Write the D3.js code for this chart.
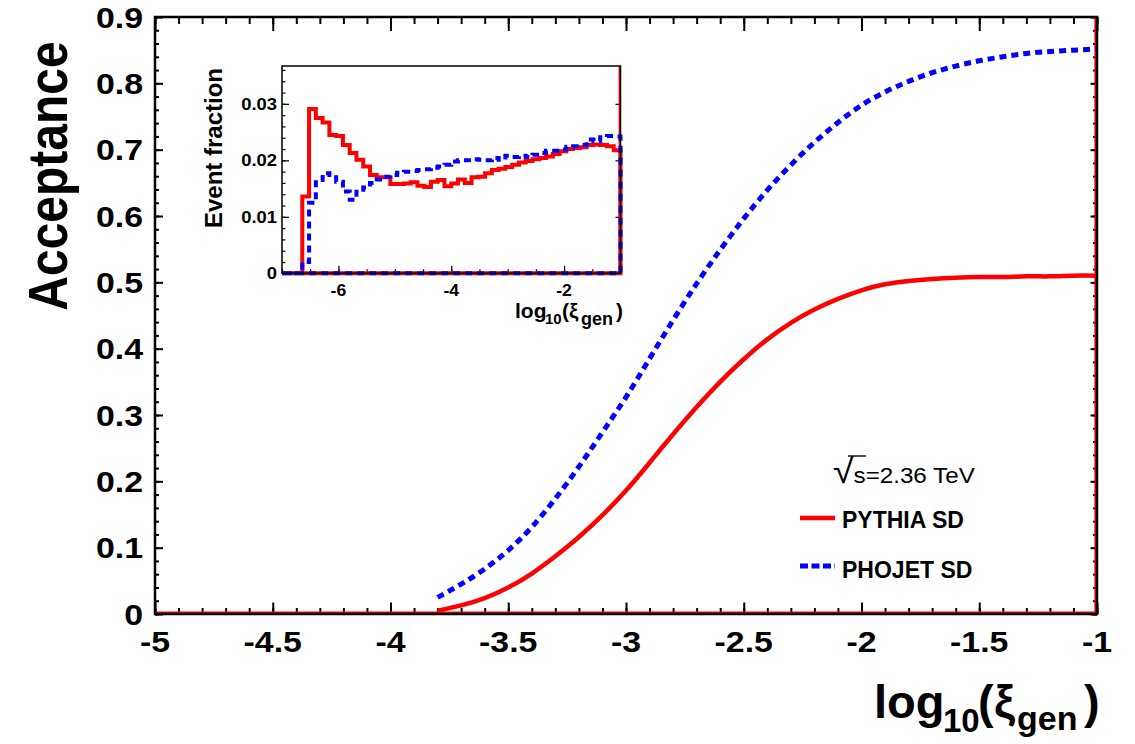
<!DOCTYPE html>
<html>
<head>
<meta charset="utf-8">
<script src="https://cdn.jsdelivr.net/npm/d3@7"></script>
<style>
  html, body { margin: 0; padding: 0; background: #fff; }
  text { font-family: "Liberation Sans", Arial, Helvetica, sans-serif; }
</style>
</head>
<body>
<svg id="chart" width="1135" height="744"></svg>
<script>
// ---- Acceptance vs log10(xi_gen) ----
const logXi = [-3.8, -3.7, -3.6, -3.5, -3.4, -3.3, -3.2, -3.1, -3.0, -2.9, -2.8, -2.7, -2.6, -2.5, -2.4,
               -2.3, -2.2, -2.1, -2.0, -1.9, -1.8, -1.7, -1.6, -1.5, -1.4, -1.3, -1.2, -1.1, -1.0];
const pythiaAcceptance = [0.005, 0.013, 0.024, 0.040, 0.061, 0.087, 0.116, 0.149, 0.186, 0.228, 0.271, 0.312,
                          0.350, 0.384, 0.414, 0.439, 0.459, 0.475, 0.488, 0.497, 0.502, 0.505, 0.507, 0.508,
                          0.508, 0.509, 0.509, 0.510, 0.510];
const phojetAcceptance = [0.025, 0.045, 0.068, 0.096, 0.131, 0.174, 0.222, 0.274, 0.327, 0.385, 0.443, 0.498,
                          0.549, 0.596, 0.639, 0.677, 0.711, 0.741, 0.767, 0.787, 0.803, 0.816, 0.826, 0.834,
                          0.840, 0.845, 0.848, 0.850, 0.852];
const xTickLabels = ["-5", "-4.5", "-4", "-3.5", "-3", "-2.5", "-2", "-1.5", "-1"];
const yTickLabels = ["0", "0.1", "0.2", "0.3", "0.4", "0.5", "0.6", "0.7", "0.8", "0.9"];

// ---- Inset: event fraction histograms, 50 bins over [-7, -1] ----
const histRange = [-7, -1];
const pythiaFraction = [0, 0, 0, 0.0136, 0.0291, 0.0275, 0.0267, 0.0245, 0.0243, 0.0227,
                        0.0213, 0.0201, 0.0189, 0.0174, 0.0170, 0.0170, 0.0158, 0.0158, 0.0159, 0.0161,
                        0.0155, 0.0153, 0.0162, 0.0165, 0.0154, 0.0159, 0.0166, 0.0160, 0.0170, 0.0171,
                        0.0177, 0.0183, 0.0185, 0.0188, 0.0192, 0.0196, 0.0199, 0.0202, 0.0204, 0.0207,
                        0.0211, 0.0216, 0.0220, 0.0222, 0.0223, 0.0227, 0.0228, 0.0227, 0.0225, 0.0218];
const phojetFraction = [0, 0, 0, 0.0020, 0.0125, 0.0165, 0.0177, 0.0170, 0.0162, 0.0145,
                        0.0130, 0.0148, 0.0152, 0.0160, 0.0166, 0.0171, 0.0174, 0.0178, 0.0180, 0.0181,
                        0.0183, 0.0184, 0.0187, 0.0189, 0.0192, 0.0198, 0.0200, 0.0200, 0.0202, 0.0201,
                        0.0200, 0.0204, 0.0201, 0.0208, 0.0206, 0.0208, 0.0206, 0.0210, 0.0213, 0.0217,
                        0.0217, 0.0219, 0.0224, 0.0225, 0.0227, 0.0237, 0.0234, 0.0241, 0.0243, 0.0242];
const insetXTickLabels = ["-6", "-4", "-2"];
const insetYTickLabels = ["0", "0.01", "0.02", "0.03"];

const RED = "#ff0000", BLUE = "#0000ff";
const svg = d3.select("#chart");

// ================= main frame =================
const x = d3.scaleLinear().domain([-5, -1]).range([155, 1097]);
const y = d3.scaleLinear().domain([0, 0.9]).range([614, 17]);
const [x0, x1] = x.range(), [y0, y1] = y.range();

function tickAxis(gen, tr, width) {
  const g = svg.append("g").attr("transform", tr).call(gen);
  g.select(".domain").remove();
  g.selectAll("line").attr("stroke", "#000").attr("stroke-width", width);
  g.selectAll("text").remove();
  return g;
}
const majorX = xTickLabels.map(Number);
const minorX = d3.range(0, 41).map(i => -5 + i * 0.1);
const majorY = yTickLabels.map(Number);
const minorY = d3.range(0, 46).map(i => i * 0.02);

tickAxis(d3.axisBottom(x).tickValues(minorX).tickSize(-6), `translate(0,${y0})`, 2);
tickAxis(d3.axisBottom(x).tickValues(majorX).tickSize(-11.5), `translate(0,${y0})`, 2);
tickAxis(d3.axisTop(x).tickValues(minorX).tickSize(-7), `translate(0,${y1})`, 2);
tickAxis(d3.axisTop(x).tickValues(majorX).tickSize(-14), `translate(0,${y1})`, 2);
tickAxis(d3.axisLeft(y).tickValues(minorY).tickSize(-4), `translate(${x0},0)`, 2);
tickAxis(d3.axisLeft(y).tickValues(majorY).tickSize(-8), `translate(${x0},0)`, 2);
tickAxis(d3.axisRight(y).tickValues(minorY).tickSize(-4), `translate(${x1},0)`, 2);
tickAxis(d3.axisRight(y).tickValues(majorY).tickSize(-6.5), `translate(${x1},0)`, 2);

// red outline of the histogram frame along the bottom and right edges
svg.append("path")
  .attr("d", d3.line()([[x0, y(0) - 1.8], [x1 - 1.8, y(0) - 1.8], [x1 - 1.8, y1]]))
  .attr("fill", "none").attr("stroke", RED).attr("stroke-width", 1.6);

// acceptance curves
const accLine = d3.line().x(d => x(d[0])).y(d => y(d[1])).curve(d3.curveNatural);
svg.append("path")
  .attr("d", accLine(logXi.map((v, i) => [v, pythiaAcceptance[i]])))
  .attr("fill", "none").attr("stroke", RED).attr("stroke-width", 4.5);
svg.append("path")
  .attr("d", accLine(logXi.map((v, i) => [v, phojetAcceptance[i]])))
  .attr("fill", "none").attr("stroke", BLUE).attr("stroke-width", 5)
  .attr("stroke-dasharray", "7,5");

// frame
svg.append("rect")
  .attr("x", x0).attr("y", y1).attr("width", x1 - x0).attr("height", y0 - y1)
  .attr("fill", "none").attr("stroke", "#000").attr("stroke-width", 2.5);

// tick labels
svg.append("g").selectAll("text").data(xTickLabels).join("text")
  .attr("transform", d => `translate(${x(+d)},652) scale(1.13,1)`)
  .attr("text-anchor", "middle").attr("font-weight", "bold").attr("font-size", 30)
  .text(d => d);
svg.append("g").selectAll("text").data(yTickLabels).join("text")
  .attr("transform", d => `translate(143,${y(+d)}) scale(1.13,1)`)
  .attr("text-anchor", "end").attr("dy", "0.36em").attr("font-weight", "bold").attr("font-size", 30)
  .text(d => d);

// axis titles
svg.append("text")
  .attr("transform", "translate(67,176) rotate(-90) scale(1,1.15)")
  .attr("text-anchor", "middle").attr("font-weight", "bold").attr("font-size", 48)
  .text("Acceptance");

const xt = svg.append("text").attr("font-weight", "bold");
xt.append("tspan").attr("x", 874).attr("y", 718).attr("font-size", 47).text("log");
xt.append("tspan").attr("x", 943).attr("y", 732).attr("font-size", 33).text("10");
xt.append("tspan").attr("x", 978).attr("y", 718).attr("font-size", 47).text("(");
xt.append("tspan").attr("x", 994).attr("y", 718).attr("font-size", 47).text("ξ");
xt.append("tspan").attr("x", 1017).attr("y", 730).attr("font-size", 34).text("gen");
xt.append("tspan").attr("x", 1084).attr("y", 718).attr("font-size", 47).text(")");

// legend
const leg = svg.append("g");
const energy = leg.append("text").attr("transform", "translate(833,483) scale(1.1,1)");
energy.append("tspan").attr("font-size", 34).text("√");
energy.append("tspan").attr("font-size", 22).text("s=2.36 TeV");
leg.append("line").attr("x1", 848).attr("x2", 866).attr("y1", 456).attr("y2", 456)
  .attr("stroke", "#000").attr("stroke-width", 1.4);
leg.append("line").attr("x1", 800).attr("x2", 835).attr("y1", 518).attr("y2", 518)
  .attr("stroke", RED).attr("stroke-width", 4.5);
leg.append("text").attr("x", 842).attr("y", 528).attr("font-size", 23).attr("font-weight", "bold")
  .text("PYTHIA SD");
leg.append("line").attr("x1", 800).attr("x2", 835).attr("y1", 566).attr("y2", 566)
  .attr("stroke", BLUE).attr("stroke-width", 5).attr("stroke-dasharray", "8,3.5");
leg.append("text").attr("x", 842).attr("y", 578).attr("font-size", 23).attr("font-weight", "bold")
  .text("PHOJET SD");

// ================= inset =================
const ix = d3.scaleLinear().domain(histRange).range([282, 620.5]);
const iy = d3.scaleLinear().domain([0, 0.0367]).range([273.3, 66]);
const [ix0, ix1] = ix.range(), [iy0, iy1] = iy.range();
const nBins = pythiaFraction.length;
const edges = d3.range(nBins + 1).map(i => histRange[0] + i * (histRange[1] - histRange[0]) / nBins);

tickAxis(d3.axisLeft(iy).tickValues(d3.range(0, 19).map(i => i * 0.002)).tickSize(-3.5), `translate(${ix0},0)`, 1.2);
tickAxis(d3.axisLeft(iy).tickValues(insetYTickLabels.map(Number)).tickSize(-7), `translate(${ix0},0)`, 1.2);
tickAxis(d3.axisRight(iy).tickValues(insetYTickLabels.map(Number)).tickSize(-5), `translate(${ix1},0)`, 1.2);
tickAxis(d3.axisBottom(ix).tickValues(d3.range(0, 13).map(i => -7 + i * 0.5)).tickSize(-4), `translate(0,${iy0})`, 1.2);
tickAxis(d3.axisBottom(ix).tickValues(insetXTickLabels.map(Number)).tickSize(-7.5), `translate(0,${iy0})`, 1.2);

const stepLine = d3.line().x(d => ix(d[0])).y(d => iy(d[1])).curve(d3.curveStepAfter);
function stepPoints(vals) {
  const pts = vals.map((v, i) => [edges[i], v]);
  pts.push([edges[nBins], vals[nBins - 1]]);
  return pts;
}
// PYTHIA histogram, closed back along the baseline
svg.append("path")
  .attr("d", stepLine(stepPoints(pythiaFraction)) +
             d3.line()([[ix(edges[nBins]), iy(0)], [ix(edges[0]), iy(0)]]).replace("M", "L"))
  .attr("fill", "none").attr("stroke", RED).attr("stroke-width", 4);
// red outline on the inset's right edge
svg.append("line").attr("x1", ix1 - 1).attr("x2", ix1 - 1).attr("y1", iy0).attr("y2", iy1)
  .attr("stroke", RED).attr("stroke-width", 1.8);
// PHOJET histogram
svg.append("path")
  .attr("d", stepLine(stepPoints(phojetFraction)) +
             d3.line()([[ix(edges[nBins]), iy(0)]]).replace("M", "L"))
  .attr("fill", "none").attr("stroke", BLUE).attr("stroke-width", 4)
  .attr("stroke-dasharray", "7,5");

svg.append("rect")
  .attr("x", ix0).attr("y", iy1).attr("width", ix1 - ix0).attr("height", iy0 - iy1)
  .attr("fill", "none").attr("stroke", "#000").attr("stroke-width", 1.5);

svg.append("g").selectAll("text").data(insetXTickLabels).join("text")
  .attr("transform", d => `translate(${ix(+d)},296) scale(1.1,1)`)
  .attr("text-anchor", "middle").attr("font-weight", "bold").attr("font-size", 16)
  .text(d => d);
svg.append("g").selectAll("text").data(insetYTickLabels).join("text")
  .attr("transform", d => `translate(277,${iy(+d)}) scale(1.15,1)`)
  .attr("text-anchor", "end").attr("dy", "0.36em").attr("font-weight", "bold").attr("font-size", 16)
  .text(d => d);

svg.append("text")
  .attr("transform", "translate(222,148) rotate(-90)")
  .attr("text-anchor", "middle").attr("font-weight", "bold").attr("font-size", 24)
  .text("Event fraction");

const it = svg.append("text").attr("font-weight", "bold");
it.append("tspan").attr("x", 515).attr("y", 318).attr("font-size", 21).text("log");
it.append("tspan").attr("x", 545).attr("y", 324).attr("font-size", 15).text("10");
it.append("tspan").attr("x", 562).attr("y", 318).attr("font-size", 21).text("(");
it.append("tspan").attr("x", 569).attr("y", 318).attr("font-size", 21).text("ξ");
it.append("tspan").attr("x", 581).attr("y", 325).attr("font-size", 18).text("gen");
it.append("tspan").attr("x", 616).attr("y", 318).attr("font-size", 21).text(")");
</script>
</body>
</html>
